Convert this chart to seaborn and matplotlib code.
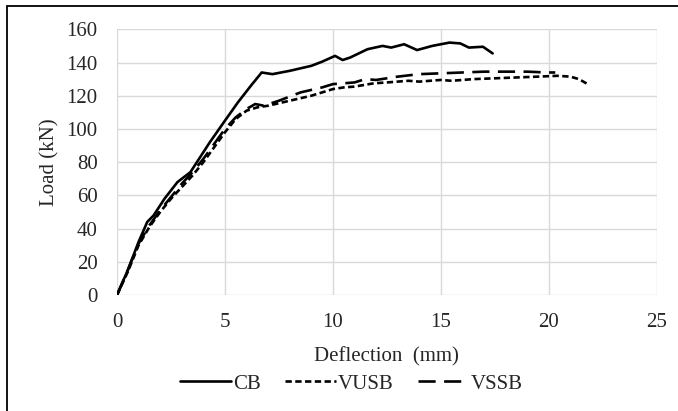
import pandas as pd
import matplotlib.pyplot as plt
import seaborn as sns
from matplotlib.patches import Rectangle

# load-deflection curves
cb_x = [0, 0.5, 1.0, 1.4, 1.7, 2.2, 2.8, 3.4, 4.3, 5.0, 5.6, 6.2, 6.7, 7.2, 8.0, 9.0, 9.5,
        10.1, 10.45, 10.8, 11.6, 12.3, 12.7, 13.3, 13.9, 14.6, 15.4, 15.9, 16.3, 16.95, 17.4]
cb_y = [0, 15, 32, 44, 48, 58, 68, 74, 92, 105, 116, 126, 134, 133, 135, 138, 140.5,
        144, 141.5, 143, 148, 150, 149, 151, 147.5, 150, 152, 151.5, 149, 149.5, 145.5]

vusb_x = [0, 0.5, 1.0, 1.5, 2.0, 2.5, 3.0, 3.5, 4.0, 4.5, 5.0, 5.5, 6.0, 6.5, 7.0, 8.0,
          9.0, 10.0, 10.5, 11.0, 11.9, 12.5, 13.0, 13.5, 14.0, 15.0, 15.5, 16.5, 17.5,
          18.5, 19.5, 20.4, 21.0, 21.4, 21.8]
vusb_y = [0, 14, 30, 41, 50, 58, 65, 72, 80, 89, 98, 106, 111, 113, 114, 117,
          120, 124, 125, 125.5, 127.5, 128, 128.5, 129, 128.5, 129.5, 129, 130, 130.5,
          131, 131.5, 132, 131.5, 130, 127]

vssb_x = [0, 0.5, 1.0, 1.5, 2.0, 2.5, 3.0, 3.5, 4.0, 4.5, 5.0, 5.5, 6.0, 6.4, 6.8, 7.5,
          8.5, 9.5, 10.0, 10.5, 11.0, 11.5, 12.0, 13.0, 14.0, 15.0, 16.0, 17.0, 18.0,
          19.0, 19.9, 20.3]
vssb_y = [0, 15, 31, 42, 51, 59, 67, 74, 82, 91, 100, 107, 112, 115, 114, 117,
          122, 125, 127, 127.5, 128, 130, 129.5, 131.5, 133, 133.5, 134, 134.5, 134.5,
          134.5, 134, 134]

beams = ["CB", "VUSB", "VSSB"]

df = pd.concat([
    pd.DataFrame({"Deflection": cb_x, "Load": cb_y, "Beam": "CB"}),
    pd.DataFrame({"Deflection": vusb_x, "Load": vusb_y, "Beam": "VUSB"}),
    pd.DataFrame({"Deflection": vssb_x, "Load": vssb_y, "Beam": "VSSB"}),
], ignore_index=True)

sns.set_style("whitegrid", {"grid.color": "#d9d9d9"})
plt.rcParams["font.family"] = ["Liberation Serif", "DejaVu Serif"]
fs = 15

fig = plt.figure(figsize=(6.78, 4.11), dpi=100)
ax = fig.add_axes([0.1726, 0.2822, 0.796, 0.6465])

sns.lineplot(
    data=df, x="Deflection", y="Load", hue="Beam", style="Beam",
    hue_order=beams, style_order=beams,
    palette={b: "black" for b in beams},
    dashes={"CB": "", "VUSB": (2.4, 1.3), "VSSB": (6.5, 3.2)},
    sort=False, estimator=None, linewidth=1.9, ax=ax,
)

ax.set_xlim(0, 25)
ax.set_ylim(0, 160)
ax.set_xticks(range(0, 26, 5))
ax.set_yticks(range(0, 161, 20))
ax.grid(True, color="#d9d9d9", linewidth=1.0)
for s in ax.spines.values():
    s.set_visible(False)
ax.tick_params(axis="both", length=0, labelsize=fs)
ax.tick_params(axis="x", pad=13)
ax.tick_params(axis="y", pad=14)
ax.set_xlabel("Deflection  (mm)", fontsize=fs, labelpad=11)
ax.set_ylabel("Load (kN)", fontsize=fs, labelpad=5)

handles, labels = ax.get_legend_handles_labels()
ax.legend(handles, labels, loc="center", bbox_to_anchor=(0.5184, 0.066),
          bbox_transform=fig.transFigure, ncol=3, frameon=False, fontsize=fs,
          handlelength=2.45, handletextpad=0.1, columnspacing=1.15)

# outer chart border (cropped at right and bottom in the reference)
fig.add_artist(Rectangle((0.0103, -1.0), 2.0, 1.9866, transform=fig.transFigure,
                         fill=False, edgecolor="black", linewidth=1.3))

fig.savefig("out.png", dpi=100)
